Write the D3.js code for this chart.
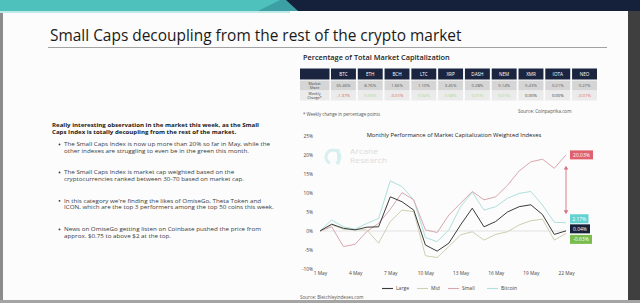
<!DOCTYPE html>
<html>
<head>
<meta charset="utf-8">
<script src="https://cdn.jsdelivr.net/npm/d3@7"></script>
<style>
  body { margin: 0; background: #fff; }
  svg { display: block; }
  text { font-family: "Open Sans", "Noto Sans", sans-serif; }
</style>
</head>
<body>
<div id="chart"></div>
<script>
// ---- data ----
const coins = ["BTC", "ETH", "BCH", "LTC", "XRP", "DASH", "NEM", "XMR", "IOTA", "NEO"];
const marketShare = ["65.46%", "8.76%", "1.66%", "1.10%", "3.45%", "0.28%", "0.14%", "0.43%", "0.21%", "0.27%"];
const weeklyChange = [-1.37, 0.05, -0.01, 0.04, 0.08, 0.01, 0.01, 0.00, 0.00, -0.01];

const days = d3.range(1, 23);
const large   = [0, 1.8, 0.7, 0.3, 1.0, 1.1, 9.0, 7.7, 5.5, -3.7, -5.3, -3.2, 1.6, 6.0, 1.1, 2.5, 5.0, 6.4, 6.9, 4.3, -0.9, 0.04];
const mid     = [0, 1.6, 0.5, 0.3, 0.3, -3.2, 2.5, 5.5, 5.1, -6.5, -7.0, -4.1, -1.0, -0.2, -2.4, -0.9, -0.2, 1.6, 2.7, 3.1, -2.4, -0.63];
const small   = [0, 1.1, -4.1, -3.5, -0.1, 2.0, 5.7, 10.1, 8.2, 0.3, -0.4, 4.2, 7.3, 10.4, 8.2, 9.0, 12.0, 15.8, 18.2, 18.9, 16.5, 20.03];
const bitcoin = [0, 2.9, 1.1, 0.5, 2.0, 3.3, 13.2, 11.7, 8.2, -1.7, -2.8, 0.3, 6.4, 10.2, 5.5, 6.4, 8.6, 9.9, 10.4, 6.8, 2.3, 2.17];

const seriesNames = ["Large", "Mid", "Small", "Bitcoin"];
const yTicks = [-10, -5, 0, 5, 10, 15, 20, 25];
const xTicks = [1, 4, 7, 10, 13, 16, 19, 22];
const endLabels = ["20.03%", "2.17%", "0.04%", "-0.63%"];
const spread = [16.9, 4.7];   // arrow between small and the rest

const boldLines = ["Really interesting observation in the market this week, as the Small",
                   "Caps Index is totally decoupling from the rest of the market."];
const bullets = [
  ["The Small Caps Index is now up more than 20% so far in May, while the",
   "other indexes are struggling to even be in the green this month."],
  ["The Small Caps Index is market cap weighted based on the",
   "cryptocurrencies ranked between 30-70 based on market cap."],
  ["In this category we're finding the likes of OmiseGo, Theta Token and",
   "ICON, which are the top 3 performers among the top 50 coins this week."],
  ["News on OmiseGo getting listen on Coinbase pushed the price from",
   "approx.  $0.75 to above $2 at the top."]
];

// scale font so text spans a target width
function fit(sel, w) {
  const fs = parseFloat(sel.attr("font-size"));
  const len = sel.node().getComputedTextLength();
  const nfs = fs * w / len;
  sel.attr("font-size", nfs);
  return nfs;
}
// stretch text horizontally by a factor, keeping its height
function stretch(sel, k) {
  const len = sel.node().getComputedTextLength();
  sel.attr("textLength", len * k).attr("lengthAdjust", "spacingAndGlyphs");
}

const svg = d3.select("#chart").append("svg")
    .attr("width", 640)
    .attr("height", 303);

// slide background + frame
svg.append("rect").attr("width", 640).attr("height", 303).attr("fill", "#fcfcfc");
svg.append("rect").attr("x", 0).attr("width", 3).attr("height", 303).attr("fill", "#8c8c8c");
svg.append("rect").attr("x", 628).attr("y", 10).attr("width", 12).attr("height", 293).attr("fill", "#3f3f3f");
svg.append("rect").attr("y", 300).attr("width", 640).attr("height", 3).attr("fill", "#a5a5a5");

// top band
svg.append("rect").attr("width", 640).attr("height", 11).attr("fill", "#4fc1bd");
svg.append("rect").attr("y", 11).attr("width", 290).attr("height", 2).attr("fill", "#bfe8e6");
svg.append("path").attr("d", "M258,11 L280,0 L300,0 L300,11 Z").attr("fill", "#3b9fa4");
svg.append("path").attr("d", "M286,0 L640,0 L640,11 L298,11 Z").attr("fill", "#15213a");

// title
const title = svg.append("text")
    .attr("x", 50).attr("y", 41)
    .attr("font-size", 16)
    .attr("fill", "#1a1a1a")
    .text("Small Caps decoupling from the rest of the crypto market");
fit(title, 412);
svg.append("line")
    .attr("x1", 48).attr("x2", 607).attr("y1", 47.5).attr("y2", 47.5)
    .attr("stroke", "#8a8a8a").attr("stroke-width", 0.8);

// ---- left text ----
let kb = 1;
boldLines.forEach(function(t, j) {
    const el = svg.append("text").attr("x", 52).attr("y", 127 + j * 6.7)
        .attr("font-family", "Lato, sans-serif")
        .attr("font-size", 5.5).attr("font-weight", "bold").attr("fill", "#1a1a1a")
        .text(t);
    if (j === 0) kb = 207 / el.node().getComputedTextLength();
    stretch(el, kb);
});

const bulletY = [146.3, 174.3, 202.7, 231.3];
let kt = 1;
bullets.forEach(function(lines, i) {
    svg.append("circle").attr("cx", 59.5).attr("cy", bulletY[i] - 1.9).attr("r", 0.9).attr("fill", "#333");
    lines.forEach(function(t, j) {
        const el = svg.append("text")
            .attr("x", 64).attr("y", bulletY[i] + j * 6.5)
            .attr("font-family", "Lato, sans-serif")
            .attr("font-size", 5.3).attr("fill", "#3a3a3a")
            .text(t);
        if (i === 0 && j === 0) kt = 206 / el.node().getComputedTextLength();
        stretch(el, kt);
    });
});

// ---- table ----
const tt = svg.append("text").attr("x", 303).attr("y", 60)
    .attr("font-size", 9).attr("font-weight", "600").attr("fill", "#222")
    .text("Percentage of Total Market Capitalization");
fit(tt, 147);

const col = d3.scaleBand().domain(coins).range([331, 597]).paddingInner(0.07);
const rows = [
  {y: 68.5, h: 11, fill: "#1b2540"},
  {y: 80.5, h: 10, fill: "#d5d5d5"},
  {y: 91, h: 9.5, fill: "#ebebeb"}
];
rows.forEach(function(r) {
    svg.append("rect").attr("x", 300).attr("y", r.y).attr("width", 29.5).attr("height", r.h).attr("fill", r.fill);
    svg.selectAll(null).data(coins).enter().append("rect")
        .attr("x", d => col(d)).attr("y", r.y)
        .attr("width", col.bandwidth()).attr("height", r.h)
        .attr("fill", r.fill);
});
svg.selectAll(null).data(coins).enter().append("text")
    .attr("x", d => col(d) + col.bandwidth() / 2).attr("y", 75.8)
    .attr("text-anchor", "middle").attr("font-size", 4.6).attr("fill", "#fff")
    .text(d => d);
svg.selectAll(null).data(marketShare).enter().append("text")
    .attr("x", (d, i) => col(coins[i]) + col.bandwidth() / 2).attr("y", 87.2)
    .attr("text-anchor", "middle").attr("font-size", 4.2).attr("fill", "#555")
    .text(d => d);
svg.selectAll(null).data(weeklyChange).enter().append("text")
    .attr("x", (d, i) => col(coins[i]) + col.bandwidth() / 2).attr("y", 97.3)
    .attr("text-anchor", "middle").attr("font-size", 4.2)
    .attr("fill", d => d < 0 ? "#e05a5a" : d > 0 ? "#a6d98a" : "#333")
    .text(d => d.toFixed(2) + "%");
[["Market", 84.8], ["Share", 89], ["Weekly", 94.6], ["Change*", 98.6]].forEach(function(p) {
    svg.append("text").attr("x", 314.5).attr("y", p[1])
        .attr("text-anchor", "middle").attr("font-size", 3.6).attr("fill", "#444")
        .text(p[0]);
});
svg.append("text").attr("x", 303).attr("y", 115.5).attr("font-size", 4.4).attr("fill", "#555")
    .text("* Weekly change in percentage points");
svg.append("text").attr("x", 518).attr("y", 113).attr("font-size", 4.6).attr("fill", "#555")
    .text("Source: Coinpaprika.com");

// ---- line chart ----
const x = d3.scaleLinear().domain([1, 22]).range([320, 566]);
const y = d3.scaleLinear().domain([-10, 25]).range([269, 136]);

// watermark
const wm = svg.append("g").attr("opacity", 0.9);
wm.append("path")
    .attr("d", d3.arc()({innerRadius: 5.5, outerRadius: 8.5, startAngle: Math.PI * 0.15, endAngle: Math.PI * 0.85 + Math.PI}))
    .attr("transform", "translate(333,157) rotate(180)")
    .attr("fill", "#d4efee");
wm.append("rect").attr("x", 337).attr("y", 149).attr("width", 2.6).attr("height", 15.5).attr("fill", "#d4efee");
const wm1 = wm.append("text").attr("x", 350).attr("y", 153.8).attr("font-family", "Lato, sans-serif")
    .attr("font-size", 7.4).attr("fill", "#d9d9d9").text("Arcane");
const wm2 = wm.append("text").attr("x", 350).attr("y", 163.2).attr("font-family", "Lato, sans-serif")
    .attr("font-size", 7.4).attr("fill", "#d9d9d9").text("Research");
const kw = 37 / wm2.node().getComputedTextLength();
stretch(wm1, kw);
stretch(wm2, kw);

const ct = svg.append("text").attr("x", 454).attr("y", 137)
    .attr("text-anchor", "middle").attr("font-size", 6).attr("fill", "#222")
    .text("Monthly Performance of Market Capitalization Weighted Indexes");
fit(ct, 175);

svg.append("line")
    .attr("x1", x(1)).attr("x2", x(22)).attr("y1", y(0)).attr("y2", y(0))
    .attr("stroke", "#dcdcdc").attr("stroke-width", 0.8);

const yAxis = svg.append("g")
    .attr("transform", "translate(313,0)")
    .call(d3.axisLeft(y).tickValues(yTicks).tickSize(0).tickPadding(0).tickFormat(d => d + "%"));
yAxis.select(".domain").remove();
yAxis.selectAll("text").attr("font-size", 4.8).attr("fill", "#444").attr("font-family", "Open Sans, sans-serif");

const xAxis = svg.append("g")
    .attr("transform", "translate(0,272)")
    .call(d3.axisBottom(x).tickValues(xTicks).tickSize(0).tickPadding(0).tickFormat(d => d + " May"));
xAxis.select(".domain").remove();
xAxis.selectAll("text").attr("font-size", 4.8).attr("fill", "#444").attr("font-family", "Open Sans, sans-serif");

const series = [
  {name: seriesNames[0], values: large, color: "#3b3b3b"},
  {name: seriesNames[1], values: mid, color: "#cfcfb2"},
  {name: seriesNames[2], values: small, color: "#d8a7ae"},
  {name: seriesNames[3], values: bitcoin, color: "#aee0dc"}
];
const line = d3.line()
    .x((d, i) => x(days[i]))
    .y(d => y(d));

svg.selectAll(".series").data(series.slice().reverse()).enter().append("path")
    .attr("class", "series")
    .attr("d", d => line(d.values))
    .attr("fill", "none")
    .attr("stroke", d => d.color)
    .attr("stroke-width", 1)
    .attr("stroke-linejoin", "round");

// spread arrow
const arrowColor = "#d8707f";
svg.append("line")
    .attr("x1", x(22)).attr("x2", x(22))
    .attr("y1", y(spread[0]) + 2).attr("y2", y(spread[1]) - 2)
    .attr("stroke", arrowColor).attr("stroke-width", 0.9);
svg.append("path")
    .attr("d", d3.symbol(d3.symbolTriangle, 9)())
    .attr("transform", "translate(" + x(22) + "," + (y(spread[0]) + 1.5) + ")")
    .attr("fill", arrowColor);
svg.append("path")
    .attr("d", d3.symbol(d3.symbolTriangle, 9)())
    .attr("transform", "translate(" + x(22) + "," + (y(spread[1]) - 1.5) + ") rotate(180)")
    .attr("fill", arrowColor);

// end value labels
const labelBox = [
  {text: endLabels[0], v: small[21], fill: "#e0606e", dy: 0, w: 23},
  {text: endLabels[1], v: bitcoin[21], fill: "#63d2d2", dy: -4, w: 18.5},
  {text: endLabels[2], v: large[21], fill: "#16213a", dy: -2, w: 20},
  {text: endLabels[3], v: mid[21], fill: "#79bd4f", dy: 6, w: 22}
];
const lb = svg.selectAll(".lbl").data(labelBox).enter().append("g")
    .attr("class", "lbl")
    .attr("transform", d => "translate(" + (x(22) + 4) + "," + (y(d.v) + d.dy) + ")");
lb.append("rect")
    .attr("x", 0).attr("y", -4.5)
    .attr("width", d => d.w).attr("height", 9)
    .attr("fill", d => d.fill);
lb.append("text")
    .attr("x", d => d.w / 2).attr("y", 1.9)
    .attr("text-anchor", "middle").attr("font-size", 5).attr("fill", "#fff")
    .text(d => d.text);

// legend
const legX = [382, 417, 448, 487];
const lg = svg.selectAll(".leg").data(series).enter().append("g")
    .attr("class", "leg")
    .attr("transform", (d, i) => "translate(" + legX[i] + ",288.5)");
lg.append("line").attr("x1", 0).attr("x2", 11).attr("stroke", d => d.color).attr("stroke-width", 1.1);
lg.append("text").attr("x", 14).attr("y", 1.8).attr("font-size", 5).attr("fill", "#444").text(d => d.name);

svg.append("text").attr("x", 300).attr("y", 298.5).attr("font-size", 4.6).attr("fill", "#555")
    .text("Source: Bletchleyindexes.com");
</script>
</body>
</html>
